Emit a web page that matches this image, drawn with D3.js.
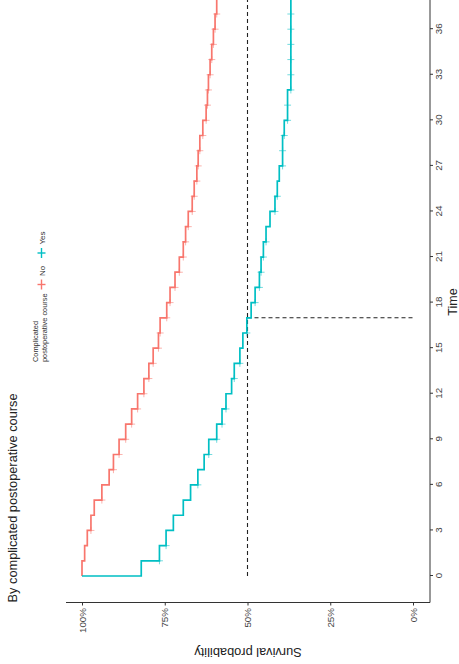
<!DOCTYPE html>
<html>
<head>
<meta charset="utf-8">
<script src="https://cdn.jsdelivr.net/npm/d3@7"></script>
<style>
  html, body { margin: 0; padding: 0; background: #fff; }
  svg { display: block; font-family: "Liberation Sans", Arial, Helvetica, sans-serif; }
</style>
</head>
<body>
<svg id="chart" width="459" height="664"></svg>
<script>
// ---- data ----
const groupNames = ["No", "Yes"];
const groupColors = ["#F8766D", "#00BFC4"];
const legendTitle = ["Complicated", "postoperative course"];
const chartTitle = "By complicated postoperative course";
const xTitle = "Time";
const yTitle = "Survival probability";
const timeTicks = [0, 3, 6, 9, 12, 15, 18, 21, 24, 27, 30, 33, 36];
const survTicks = [0, 0.25, 0.5, 0.75, 1];

const timesNo = [0, 1, 2, 3, 4, 5, 6, 7, 8, 9, 10, 11, 12, 13, 14, 15, 16, 17, 18, 19, 20, 21, 22, 23, 24, 25, 26, 27, 28, 29, 30, 31, 32, 33, 34, 35, 36, 37];
const survNo = [1.000, 0.992, 0.984, 0.973, 0.963, 0.940, 0.918, 0.905, 0.888, 0.868, 0.850, 0.832, 0.813, 0.798, 0.785, 0.769, 0.764, 0.744, 0.734, 0.719, 0.706, 0.694, 0.687, 0.679, 0.667, 0.661, 0.653, 0.649, 0.644, 0.635, 0.625, 0.621, 0.618, 0.613, 0.608, 0.603, 0.598, 0.593];
const censorNo = [3, 5, 7, 8, 9, 10, 11, 12, 13, 14, 15, 16, 17, 18, 19, 20, 21, 22, 23, 24, 25, 26, 27, 28, 29, 30, 31, 32, 33, 34, 35, 36, 37];

const timesYes = [0, 0, 1, 2, 3, 4, 5, 6, 7, 8, 9, 10, 11, 12, 13, 14, 15, 16, 17, 18, 19, 20, 21, 22, 23, 24, 25, 26, 27, 29, 30, 32];
const survYes = [1.000, 0.821, 0.766, 0.746, 0.724, 0.694, 0.672, 0.650, 0.631, 0.617, 0.593, 0.577, 0.565, 0.548, 0.540, 0.523, 0.514, 0.502, 0.489, 0.477, 0.464, 0.459, 0.452, 0.444, 0.432, 0.417, 0.410, 0.404, 0.394, 0.389, 0.379, 0.369];
const censorYes = [1, 2, 6, 8, 9, 10, 11, 13, 14, 16, 18, 19, 20, 21, 22, 24, 25, 27, 28, 29, 30, 31, 32, 33, 34, 35, 36, 37];

const medianSurv = 0.5;
const medianTime = 17;

// ---- layout (drawn in the un-rotated ggplot frame, then turned 90° ccw) ----
const svg = d3.select("#chart");
const g = svg.append("g").attr("transform", "translate(0,664) rotate(-90)");

const P = { x0: 61.5, x1: 664, y0: 66, y1: 430 };
const x = d3.scaleLinear().domain([0, 36]).range([88, 634.8]);
const y = d3.scaleLinear().domain([0, 1]).range([413, 82]);
const tEnd = x.invert(P.x1 + 2);

function stepFn(times, surv) {
  return t => { let v = surv[0]; for (let i = 0; i < times.length; i++) if (times[i] <= t) v = surv[i]; return v; };
}

const groups = [
  { times: timesNo, surv: survNo, censor: censorNo, color: groupColors[0] },
  { times: timesYes, surv: survYes, censor: censorYes, color: groupColors[1] }
];

// median lines
const dash = "4,3";
g.append("line")
  .attr("x1", x(0)).attr("x2", P.x1 + 2)
  .attr("y1", y(medianSurv)).attr("y2", y(medianSurv))
  .attr("stroke", "#222").attr("stroke-width", 1.1).attr("stroke-dasharray", dash);
g.append("line")
  .attr("x1", x(medianTime)).attr("x2", x(medianTime))
  .attr("y1", y(medianSurv)).attr("y2", y(0))
  .attr("stroke", "#222").attr("stroke-width", 1.1).attr("stroke-dasharray", dash);

const line = d3.line().x(d => x(d[0])).y(d => y(d[1])).curve(d3.curveStepAfter);

groups.forEach(gr => {
  const pts = gr.times.map((t, i) => [t, gr.surv[i]]);
  pts.push([tEnd, gr.surv[gr.surv.length - 1]]);
  g.append("path").datum(pts)
    .attr("d", line)
    .attr("fill", "none")
    .attr("stroke", gr.color)
    .attr("stroke-width", 1.7);
  const f = stepFn(gr.times, gr.surv);
  const cs = g.append("g").attr("stroke", gr.color).attr("stroke-width", 1).attr("opacity", 0.55);
  gr.censor.forEach(t => {
    const cx = x(t), cy = y(f(t)), a = 3.5;
    cs.append("line").attr("x1", cx - a).attr("x2", cx + a).attr("y1", cy).attr("y2", cy);
    cs.append("line").attr("x1", cx).attr("x2", cx).attr("y1", cy - a).attr("y2", cy + a);
  });
});

// axes
const axisCol = "#333";
const yAxis = g.append("g").attr("transform", `translate(${P.x0},0)`)
  .call(d3.axisLeft(y).tickValues(survTicks).tickFormat(d3.format(".0%")).tickSize(3).tickPadding(2.5));
const xAxis = g.append("g").attr("transform", `translate(0,${P.y1})`)
  .call(d3.axisBottom(x).tickValues(timeTicks).tickSize(3).tickPadding(2.5));
[yAxis, xAxis].forEach(a => {
  a.select(".domain").remove();
  a.selectAll(".tick line").attr("stroke", axisCol);
  a.selectAll(".tick text").attr("fill", "#444").style("font-size", "9.8px").style("font-family", null);
});
g.append("line").attr("x1", P.x0).attr("x2", P.x0).attr("y1", P.y0).attr("y2", P.y1)
  .attr("stroke", axisCol).attr("stroke-width", 1);
g.append("line").attr("x1", P.x0).attr("x2", P.x1 + 2).attr("y1", P.y1).attr("y2", P.y1)
  .attr("stroke", axisCol).attr("stroke-width", 1);

// axis titles
g.append("text")
  .attr("transform", `translate(16.5,${(P.y0 + P.y1) / 2}) rotate(-90)`)
  .attr("text-anchor", "middle")
  .style("font-size", "12.8px").attr("fill", "#222")
  .text(yTitle);
g.append("text")
  .attr("x", 362).attr("y", 457)
  .attr("text-anchor", "middle")
  .style("font-size", "12.5px").attr("fill", "#222")
  .text(xTitle);

// title
g.append("text")
  .attr("x", P.x0).attr("y", 16.5)
  .style("font-size", "12.8px").attr("fill", "#222")
  .text(chartTitle);

// legend
const lg = g.append("g");
legendTitle.forEach((s, i) => {
  lg.append("text").attr("x", 302).attr("y", 37.5 + i * 9)
    .style("font-size", "7.4px").attr("fill", "#333").text(s);
});
const keyX = [379.5, 411];
groupNames.forEach((name, i) => {
  const kx = keyX[i], ky = 41.5;
  lg.append("line").attr("x1", kx - 5).attr("x2", kx + 5).attr("y1", ky).attr("y2", ky)
    .attr("stroke", groupColors[i]).attr("stroke-width", 1.4);
  lg.append("line").attr("x1", kx).attr("x2", kx).attr("y1", ky - 4).attr("y2", ky + 4)
    .attr("stroke", groupColors[i]).attr("stroke-width", 1.4);
  lg.append("text").attr("x", kx + 8.5).attr("y", ky + 3)
    .style("font-size", "8px").attr("fill", "#333").text(name);
});
</script>
</body>
</html>
